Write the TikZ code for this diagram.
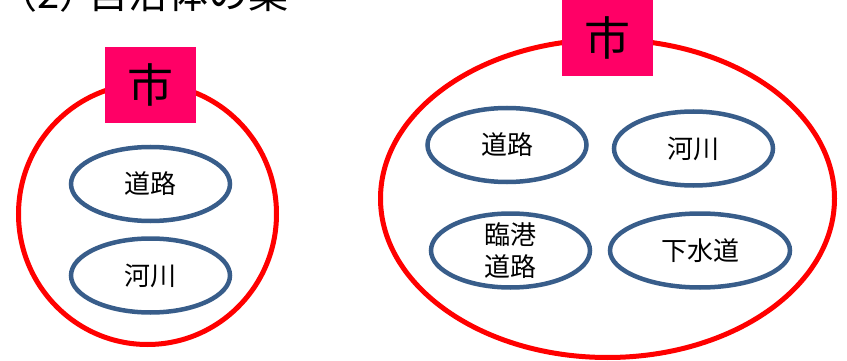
\documentclass[tikz,border=0pt]{standalone}
\usepackage{xcolor}
\usepackage{fontspec}
\newfontfamily\cjk{Noto Sans CJK JP}
\usetikzlibrary{shapes.geometric}
\definecolor{cityred}{RGB}{255,0,0}
\definecolor{citypink}{RGB}{255,0,102}
\definecolor{wardblue}{RGB}{56,93,138}

\begin{document}
\begin{tikzpicture}[x=1pt, y=-1pt,
		city/.style={ellipse, draw=cityred, line width=5pt, inner sep=0pt},
		tag/.style={fill=citypink, minimum width=91pt, minimum height=76pt, inner sep=0pt, font=\cjk\fontsize{46}{46}\selectfont},
		ward/.style={ellipse, draw=wardblue, line width=4.5pt, minimum width=159pt, minimum height=74pt, inner sep=0pt},
		wardtext/.style={font=\cjk\fontsize{26}{32}\selectfont, align=center, inner sep=0pt}]
				\useasboundingbox (0,0) rectangle (847,361);
				
				%Title
				\node[anchor=base west, inner sep=0pt, font=\cjk\fontsize{40}{40}\selectfont] (title) at (-3,9) {（2）\kern-11pt 自治体の案};
				
				%Left city
				\node[city, minimum width=258pt, minimum height=261pt] (cityL) at (147.5,214) {};
				\node[tag] (tagL) at (150.5,85) {市};
				
				%Left wards
				\node[ward] (roadL) at (150.5,184) {};
				\node[wardtext] (roadLtext) at (roadL) {道路};
				\node[ward] (riverL) at (150.5,275.5) {};
				\node[wardtext] (riverLtext) at (riverL) {河川};
				
				%Right city
				\node[city, minimum width=454pt, minimum height=318pt] (cityR) at (607.5,198.5) {};
				\node[tag] (tagR) at (607.5,38) {市};
				
				%Right wards
				\node[ward] (roadR) at (507,145) {};
				\node[wardtext] (roadRtext) at (roadR) {道路};
				\node[ward] (riverR) at (693.5,148.5) {};
				\node[wardtext] (riverRtext) at (riverR) {河川};
				\node[ward] (portR) at (510.5,250.5) {};
				\node[wardtext] (portRtext) at (portR) {臨港\\道路};
				\node[ward, minimum width=180pt] (sewerR) at (700,250.5) {};
				\node[wardtext] (sewerRtext) at (sewerR) {下水道};
			\end{tikzpicture}
\end{document}
